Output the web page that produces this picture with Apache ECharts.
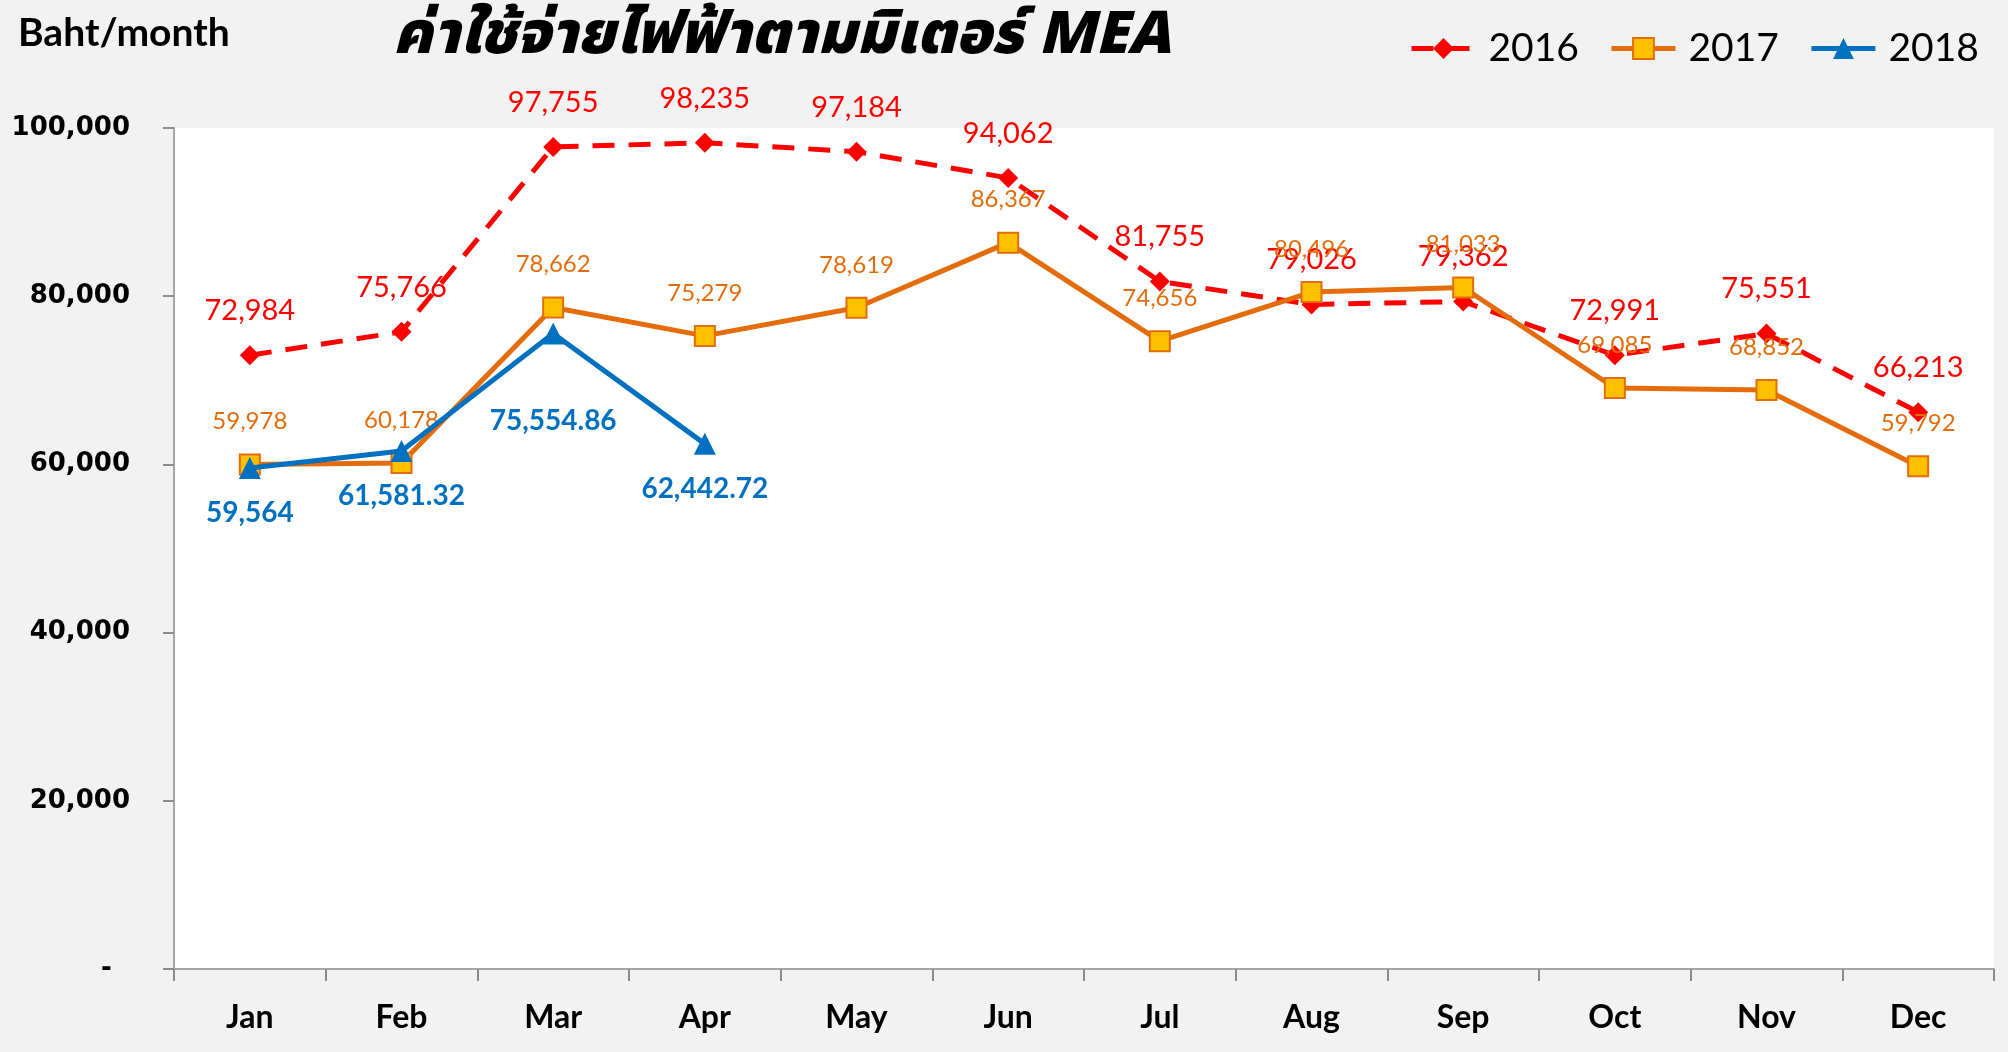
<!DOCTYPE html>
<html>
<head>
<meta charset="utf-8">
<script src="https://cdn.jsdelivr.net/npm/echarts@6/dist/echarts.min.js"></script>
<style>
html, body { margin: 0; padding: 0; background: #f2f2f2; }
#chart { width: 2008px; height: 1052px; }
</style>
</head>
<body>
<div id="chart"></div>
<script>
// data
var months = ['Jan', 'Feb', 'Mar', 'Apr', 'May', 'Jun', 'Jul', 'Aug', 'Sep', 'Oct', 'Nov', 'Dec'];
var y2016 = [72984, 75766, 97755, 98235, 97184, 94062, 81755, 79026, 79362, 72991, 75551, 66213];
var y2017 = [59978, 60178, 78662, 75279, 78619, 86367, 74656, 80496, 81033, 69085, 68852, 59792];
var y2018 = [59564, 61581.32, 75554.86, 62442.72];
var seriesNames = ['2016', '2017', '2018'];

var chart = echarts.init(document.getElementById('chart'));

function fmt(v) {
    var dec = Number.isInteger(v) ? 0 : 2;
    return v.toLocaleString('en-US', {minimumFractionDigits: dec, maximumFractionDigits: dec});
}

// Mar 2018 label sits lower in the original
var data2018 = y2018.map(function (v, i) {
    if (i === 2) return {value: v, label: {distance: 62}};
    return v;
});

var option = {
    backgroundColor: '#f2f2f2',
    animation: false,
    title: {
        text: 'ค่าใช้จ่ายไฟฟ้าตามมิเตอร์ MEA',
        left: 388,
        top: 7,
        textStyle: {
            fontFamily: '"Noto Sans Thai", "DejaVu Sans", sans-serif',
            fontSize: 59,
            fontWeight: 900,
            fontStyle: 'italic',
            color: '#000'
        }
    },
    graphic: [{
        type: 'text',
        left: 18,
        top: 14,
        style: {
            text: 'Baht/month',
            font: 'bold 39px Lato',
            fill: '#000'
        }
    }],
    legend: {
        data: seriesNames,
        left: 1404,
        top: 24,
        itemWidth: 64,
        itemHeight: 26,
        itemGap: 30,
        lineStyle: {width: 5},
        textStyle: {
            fontFamily: 'Lato',
            fontSize: 39,
            color: '#000',
            padding: [0, 0, 0, 8]
        }
    },
    grid: {
        left: 174,
        right: 14,
        top: 128,
        bottom: 83,
        show: true,
        backgroundColor: '#ffffff',
        borderWidth: 0
    },
    xAxis: {
        type: 'category',
        data: months,
        boundaryGap: true,
        axisLine: {lineStyle: {color: '#a6a6a6', width: 2}},
        axisTick: {show: true, alignWithLabel: false, length: 12, lineStyle: {color: '#8c8c8c', width: 2}},
        axisLabel: {
            margin: 33,
            fontFamily: 'Lato',
            fontWeight: 'bold',
            fontSize: 32,
            color: '#000'
        },
        splitLine: {show: false}
    },
    yAxis: {
        type: 'value',
        min: 0,
        max: 100000,
        interval: 20000,
        axisLine: {show: true, lineStyle: {color: '#a6a6a6', width: 2}},
        axisTick: {show: true, length: 11, lineStyle: {color: '#8c8c8c', width: 2}},
        axisLabel: {
            margin: 44,
            fontFamily: '"DejaVu Sans"',
            fontWeight: 'bold',
            fontSize: 26,
            color: '#000',
            formatter: function (v) { return v === 0 ? '-  ' : v.toLocaleString('en-US'); }
        },
        splitLine: {show: false}
    },
    series: [{
        name: '2016',
        type: 'line',
        data: y2016,
        symbol: 'diamond',
        symbolSize: 20,
        lineStyle: {color: '#ff0000', width: 5, type: [22, 14]},
        itemStyle: {color: '#ff0000'},
        label: {
            show: true,
            position: 'top',
            distance: 20,
            fontFamily: 'Lato',
            fontSize: 29,
            color: '#ff0000',
            formatter: function (p) { return fmt(p.value); }
        },
        z: 2
    }, {
        name: '2017',
        type: 'line',
        data: y2017,
        symbol: 'rect',
        symbolSize: 20,
        lineStyle: {color: '#e46c0a', width: 5},
        itemStyle: {color: '#ffc000', borderColor: '#e46c0a', borderWidth: 2},
        label: {
            show: true,
            position: 'top',
            distance: 20,
            fontFamily: 'Lato',
            fontSize: 24,
            color: '#e46c0a',
            formatter: function (p) { return fmt(p.value); }
        },
        z: 3
    }, {
        name: '2018',
        type: 'line',
        data: data2018,
        symbol: 'triangle',
        symbolSize: 22,
        lineStyle: {color: '#0070c0', width: 5},
        itemStyle: {color: '#0070c0'},
        label: {
            show: true,
            position: 'bottom',
            distance: 20,
            fontFamily: 'Lato',
            fontWeight: 'bold',
            fontSize: 28,
            color: '#0070c0',
            formatter: function (p) { return fmt(p.value); }
        },
        z: 4
    }]
};

chart.setOption(option);
window.onresize = function () {
    chart.resize();
};
</script>
</body>
</html>
